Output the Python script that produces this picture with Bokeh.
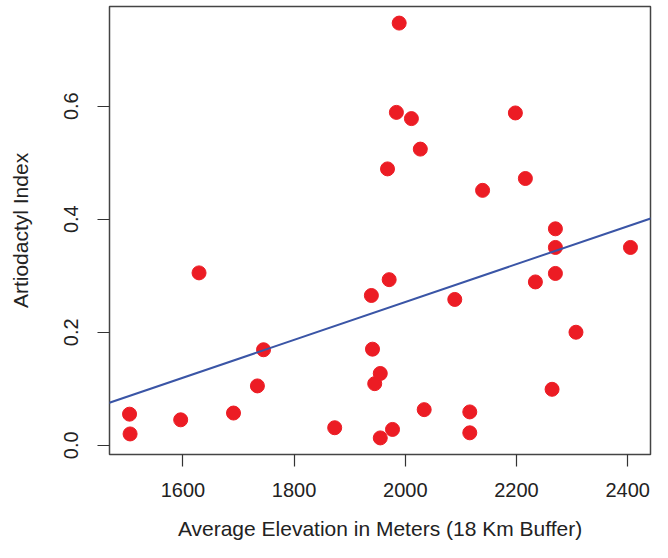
from bokeh.plotting import figure
from bokeh.models import Range1d, FixedTicker, Slope, ColumnDataSource
from bokeh.embed import file_html
from bokeh.resources import INLINE

# Data
elevation = [1504, 1505, 1596, 1629, 1691, 1734, 1745, 1873, 1939, 1941,
             1945, 1955, 1955, 1971, 1968, 1977, 1984, 1989, 2011, 2027,
             2034, 2089, 2116, 2116, 2139, 2198, 2216, 2234, 2264, 2270,
             2270, 2270, 2307, 2405]
artiodactyl = [0.055, 0.020, 0.045, 0.305, 0.057, 0.105, 0.169, 0.031, 0.265, 0.170,
               0.109, 0.127, 0.013, 0.293, 0.489, 0.028, 0.589, 0.747, 0.578, 0.524,
               0.063, 0.258, 0.059, 0.022, 0.451, 0.588, 0.472, 0.289, 0.099, 0.383,
               0.350, 0.304, 0.200, 0.350]
x_ticks = [1600, 1800, 2000, 2200, 2400]
y_ticks = [0.0, 0.2, 0.4, 0.6]
y_tick_labels = {0.0: "0.0", 0.2: "0.2", 0.4: "0.4", 0.6: "0.6"}
fit_intercept = -0.4165
fit_slope = 0.000335

def padded(vals, frac=0.04):
    lo, hi = min(vals), max(vals)
    d = (hi - lo) * frac
    return lo - d, hi + d

xlo, xhi = padded(elevation)
ylo, yhi = padded(artiodactyl)

FONT = "Liberation Sans"
TXT = "#222222"

p = figure(width=652, height=542, output_backend="svg", toolbar_location=None,
           x_range=Range1d(xlo, xhi), y_range=Range1d(ylo, yhi),
           min_border_left=109, min_border_right=2, min_border_top=6,
           min_border_bottom=86)
p.background_fill_color = "white"
p.border_fill_color = "white"
p.outline_line_color = "#444444"
p.outline_line_width = 1.5
p.grid.visible = False

src = ColumnDataSource(dict(x=elevation, y=artiodactyl))
p.scatter("x", "y", source=src, size=14, fill_color="#EC1C24", line_color="#EC1C24")
p.add_layout(Slope(gradient=fit_slope, y_intercept=fit_intercept,
                   line_color="#3A55A6", line_width=2))

for ax in (p.xaxis[0], p.yaxis[0]):
    ax.axis_line_color = None
    ax.major_tick_in = 0
    ax.major_tick_out = 12
    ax.major_tick_line_color = "#333333"
    ax.major_tick_line_width = 1.2
    ax.minor_tick_line_color = None
    ax.major_label_text_font = FONT
    ax.major_label_text_font_size = "20px"
    ax.major_label_text_color = TXT
    ax.axis_label_text_font = FONT
    ax.axis_label_text_font_size = "21px"
    ax.axis_label_text_font_style = "normal"
    ax.axis_label_text_color = TXT

p.xaxis.ticker = FixedTicker(ticks=x_ticks)
p.yaxis.ticker = FixedTicker(ticks=y_ticks)
p.yaxis.major_label_overrides = y_tick_labels
p.yaxis.major_label_orientation = "vertical"
p.xaxis.axis_label = "Average Elevation in Meters (18 Km Buffer)"
p.yaxis.axis_label = "Artiodactyl Index"
p.xaxis.major_label_standoff = 16
p.xaxis.axis_label_standoff = 17
p.yaxis.major_label_standoff = 19
p.yaxis.axis_label_standoff = 30

open("out.html", "w").write(file_html(p, INLINE))
